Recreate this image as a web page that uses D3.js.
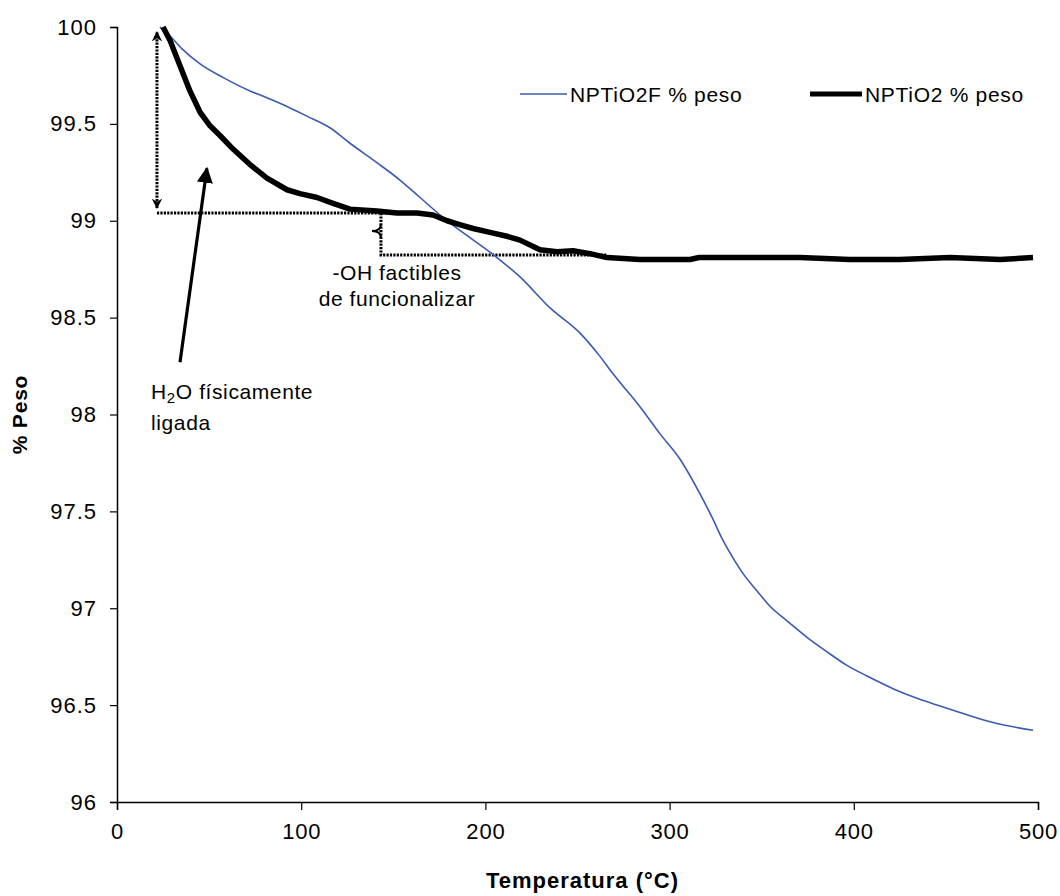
<!DOCTYPE html>
<html>
<head>
<meta charset="utf-8">
<script src="https://cdn.jsdelivr.net/npm/d3@7"></script>
<style>
  body { margin: 0; background: #fff; }
  svg { display: block; font-family: "Liberation Sans", Arial, sans-serif; }
</style>
</head>
<body>
<div id="chart"></div>
<script>
// NPTiO2F % peso (azul)
let tempF = [23.3, 27.1, 35, 45.1, 57.5, 72.2, 81.4, 92.3, 103.1, 115.6, 126.5, 141.1, 153.6, 164.5, 179.2, 186.2, 206.3, 218.8, 235.1, 251.4, 262.2, 269.3, 283.9, 294.8, 305.6, 316.5, 323, 329, 334.4, 339.8, 347.4, 354.5, 363.7, 374.6, 385.5, 396.3, 407.2, 421.3, 434.3, 446.8, 461.5, 475.6, 497.3];
let pesoF = [100.0, 99.97, 99.89, 99.81, 99.74, 99.67, 99.635, 99.59, 99.54, 99.48, 99.40, 99.30, 99.21, 99.12, 99.00, 98.95, 98.81, 98.71, 98.55, 98.42, 98.30, 98.21, 98.04, 97.90, 97.77, 97.59, 97.47, 97.35, 97.26, 97.18, 97.09, 97.01, 96.935, 96.85, 96.775, 96.705, 96.65, 96.585, 96.535, 96.495, 96.45, 96.41, 96.37];

// NPTiO2 % peso (negro)
let tempB = [25, 28.8, 34.2, 39.6, 45.1, 50.5, 55.9, 63.0, 72.2, 81.4, 92.3, 99.3, 108.6, 117.3, 126.5, 141.1, 152, 162.9, 171.6, 179.2, 186, 193.3, 202.5, 211.7, 218.8, 229.6, 238.9, 247.6, 256.8, 266.0, 283.9, 300, 311.1, 316, 320.3, 349, 370.8, 397.9, 425, 452.2, 479.4, 497.3];
let pesoB = [100.0, 99.93, 99.80, 99.67, 99.56, 99.49, 99.44, 99.37, 99.29, 99.22, 99.16, 99.14, 99.12, 99.09, 99.06, 99.05, 99.04, 99.04, 99.03, 99.00, 98.98, 98.96, 98.94, 98.92, 98.90, 98.85, 98.84, 98.845, 98.83, 98.81, 98.80, 98.80, 98.80, 98.81, 98.81, 98.81, 98.81, 98.80, 98.80, 98.81, 98.80, 98.81];

let xTicks = [0, 100, 200, 300, 400, 500];
let yTicks = [96, 96.5, 97, 97.5, 98, 98.5, 99, 99.5, 100];

let seriesNames = ["NPTiO2F % peso", "NPTiO2 % peso"];

let width = 1060;
let height = 896;
let margin = ({ top: 27, bottom: 94, left: 117, right: 22 });

let dataF = tempF.map((t, i) => ({ x: t, y: pesoF[i] }));
let dataB = tempB.map((t, i) => ({ x: t, y: pesoB[i] }));

let xScale = d3.scaleLinear()
    .domain([0, 500])
    .range([margin.left, width - margin.right]);
let yScale = d3.scaleLinear()
    .domain([96, 100])
    .range([height - margin.bottom, margin.top]);

let svg = d3.select("#chart")
    .append("svg")
    .attr("width", width)
    .attr("height", height);

svg.append("rect").attr("width", width).attr("height", height).attr("fill", "#fff");

let defs = svg.append("defs");
defs.append("marker")
    .attr("id", "bigArrow")
    .attr("viewBox", "0 0 10 10")
    .attr("refX", 9).attr("refY", 5)
    .attr("markerWidth", 5).attr("markerHeight", 5)
    .attr("orient", "auto")
    .attr("markerUnits", "strokeWidth")
    .append("path").attr("d", "M0,0 L10,5 L0,10 z").attr("fill", "#000");
defs.append("marker")
    .attr("id", "dotArrow")
    .attr("viewBox", "0 0 10 10")
    .attr("refX", 9).attr("refY", 5)
    .attr("markerWidth", 4).attr("markerHeight", 3.5)
    .attr("orient", "auto-start-reverse")
    .attr("markerUnits", "strokeWidth")
    .append("path").attr("d", "M0,0 L10,5 L0,10 L3,5 z").attr("fill", "#000");

// axes
let xAxis = g => g
    .attr("transform", `translate(0,${height - margin.bottom})`)
    .call(d3.axisBottom(xScale).tickValues(xTicks).tickSize(8).tickPadding(13).tickFormat(d3.format("d")))
    .call(g => g.select(".domain").attr("stroke-width", 1.5))
    .call(g => g.selectAll(".tick line").attr("stroke-width", 1.2))
    .call(g => g.selectAll(".tick text").attr("font-size", 22).attr("fill", "#000")
        .attr("letter-spacing", 0.8)
        .attr("font-family", "'Liberation Sans', Arial, sans-serif"));

let yAxis = g => g
    .attr("transform", `translate(${margin.left},0)`)
    .call(d3.axisLeft(yScale).tickValues(yTicks).tickSize(7).tickPadding(13).tickFormat(d => String(d)))
    .call(g => g.select(".domain").attr("stroke-width", 1.5))
    .call(g => g.selectAll(".tick line").attr("stroke-width", 1.2))
    .call(g => g.selectAll(".tick text").attr("font-size", 22).attr("fill", "#000")
        .attr("letter-spacing", 1)
        .attr("font-family", "'Liberation Sans', Arial, sans-serif"));

svg.append("g").call(xAxis);
svg.append("g").call(yAxis);

svg.append("text")
    .attr("x", (xScale(0) + xScale(500)) / 2 + 5)
    .attr("y", 888)
    .attr("text-anchor", "middle")
    .attr("font-size", 22)
    .attr("font-weight", "bold")
    .attr("letter-spacing", 1)
    .text("Temperatura (°C)");

svg.append("text")
    .attr("transform", `translate(27,${yScale(98)}) rotate(-90)`)
    .attr("text-anchor", "middle")
    .attr("font-size", 21)
    .attr("font-weight", "bold")
    .attr("letter-spacing", 0.8)
    .text("% Peso");

// annotation reference values (data units)
let pTop = 99.04, pLow = 98.823, tLeft = 21.7, tBracket = 143.3, tEnd = 266;

let dotted = g => g
    .attr("fill", "none")
    .attr("stroke", "#000")
    .attr("stroke-width", 3)
    .attr("stroke-dasharray", "2.2,1.2");

svg.append("line").call(dotted)
    .attr("x1", xScale(tLeft)).attr("x2", xScale(tBracket + 5))
    .attr("y1", yScale(pTop)).attr("y2", yScale(pTop));
svg.append("line").call(dotted)
    .attr("x1", xScale(tLeft)).attr("x2", xScale(tLeft))
    .attr("y1", yScale(pTop) - 5).attr("y2", yScale(100) + 5)
    .attr("marker-start", "url(#dotArrow)")
    .attr("marker-end", "url(#dotArrow)");
svg.append("path").call(dotted)
    .attr("d", `M${xScale(tBracket)},${yScale(pTop)} V${yScale(pLow)} H${xScale(tEnd)}`);
// brace nub
let yMid = yScale((pTop + pLow) / 2) - 3;
let xb = xScale(tBracket);
svg.append("path")
    .attr("fill", "none").attr("stroke", "#000").attr("stroke-width", 2)
    .attr("d", `M${xb},${yMid - 7} Q${xb},${yMid} ${xb - 9},${yMid} Q${xb},${yMid} ${xb},${yMid + 7}`);

// series
let lineF = d3.line().curve(d3.curveMonotoneX).x(d => xScale(d.x)).y(d => yScale(d.y));
let lineB = d3.line().curve(d3.curveLinear).x(d => xScale(d.x)).y(d => yScale(d.y));

svg.append("path")
    .datum(dataF)
    .attr("fill", "none")
    .attr("stroke", "#3a5bb3")
    .attr("stroke-width", 1.6)
    .attr("d", lineF);

svg.append("path")
    .datum(dataB)
    .attr("fill", "none")
    .attr("stroke", "#000")
    .attr("stroke-width", 5.5)
    .attr("stroke-linejoin", "round")
    .attr("d", lineB);

// big arrow
svg.append("line")
    .attr("x1", xScale(34.2)).attr("y1", yScale(98.27))
    .attr("x2", xScale(48.8)).attr("y2", yScale(99.27))
    .attr("stroke", "#000")
    .attr("stroke-width", 3.2)
    .attr("marker-end", "url(#bigArrow)");

// annotation texts
let ann = svg.append("g").attr("font-size", 21).attr("letter-spacing", 0.6);
let h2o = ann.append("text")
    .attr("x", xScale(18.5)).attr("y", yScale(98.08));
h2o.append("tspan").text("H");
h2o.append("tspan").attr("font-size", 15).attr("dy", 4).text("2");
h2o.append("tspan").attr("dy", -4).text("O físicamente");
ann.append("text")
    .attr("x", xScale(18.5)).attr("y", yScale(98.08) + 31)
    .text("ligada");

ann.append("text")
    .attr("x", xScale(152)).attr("y", yScale(98.695))
    .attr("text-anchor", "middle")
    .text("-OH factibles");
ann.append("text")
    .attr("x", xScale(152)).attr("y", yScale(98.695) + 26)
    .attr("text-anchor", "middle")
    .text("de funcionalizar");

// legend
let legend = svg.append("g").attr("font-size", 21).attr("letter-spacing", 0.7);
let legendItems = [
    { name: seriesNames[0], x0: 520, x1: 567, color: "#3a5bb3", w: 1.6 },
    { name: seriesNames[1], x0: 810, x1: 862, color: "#000", w: 5 }
];
legendItems.forEach(it => {
    legend.append("line")
        .attr("x1", it.x0).attr("x2", it.x1)
        .attr("y1", 94).attr("y2", 94)
        .attr("stroke", it.color).attr("stroke-width", it.w);
    legend.append("text")
        .attr("x", it.x1 + 3).attr("y", 102)
        .text(it.name);
});
</script>
</body>
</html>
